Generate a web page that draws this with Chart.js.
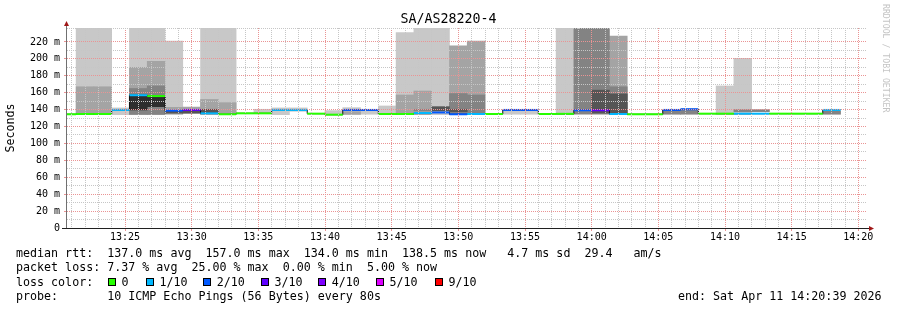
<!DOCTYPE html>
<html>
<head>
<meta charset="utf-8">
<script src="https://cdn.jsdelivr.net/npm/chart.js@4.4.1/dist/chart.umd.min.js"></script>
<style>
html,body{margin:0;padding:0;background:#fff;}
#wrap{position:relative;width:897px;height:310px;overflow:hidden;font-family:"DejaVu Sans Mono",monospace;color:#000;}
#c{position:absolute;left:0;top:0;}
.t{position:absolute;white-space:pre;font-size:11.67px;line-height:14px;}
#title{position:absolute;left:0;width:897px;top:11px;text-align:center;font-size:13.3px;line-height:16px;}
#wm{position:absolute;left:881px;top:4px;writing-mode:vertical-rl;font-size:8.2px;color:#c4c4c4;white-space:pre;line-height:10px;}
.sq{position:absolute;width:6px;height:6px;border:1px solid #000;}
</style>
</head>
<body>
<div id="wrap">
<canvas id="c" width="897" height="310"></canvas>
<div id="title">SA/AS28220-4</div>
<div id="wm">RRDTOOL / TOBI OETIKER</div>
<div class="t" style="left:16px;top:246px">median rtt:  137.0 ms avg  157.0 ms max  134.0 ms min  138.5 ms now   4.7 ms sd  29.4   am/s</div>
<div class="t" style="left:16px;top:260px">packet loss: 7.37 % avg  25.00 % max  0.00 % min  5.00 % now</div>
<div class="t" style="left:16px;top:275px">loss color:</div>
<div id="lossLegend"></div>
<div class="t" style="left:16px;top:289px">probe:       10 ICMP Echo Pings (56 Bytes) every 80s</div>
<div class="t" style="left:678px;top:289px">end: Sat Apr 11 14:20:39 2026</div>
</div>
<script>
// ---------- data ----------
const binStart = ['13:20:00','13:21:20','13:22:40','13:24:00','13:25:20','13:26:40','13:28:00','13:29:20','13:30:40','13:32:00',
  '13:33:20','13:34:40','13:36:00','13:37:20','13:38:40','13:40:00','13:41:20','13:42:40','13:44:00','13:45:20',
  '13:46:40','13:48:00','13:49:20','13:50:40','13:52:00','13:53:20','13:54:40','13:56:00','13:57:20','13:58:40',
  '14:00:00','14:01:20','14:02:40','14:04:00','14:05:20','14:06:40','14:08:00','14:09:20','14:10:40','14:12:00',
  '14:13:20','14:14:40','14:16:00','14:17:20','14:18:40'];
const binSeconds = 80;

const median = [134.5,134.8,134.8,139.6,157,156,138.8,139.6,135.6,134.5,
  135.6,135.6,139.6,139.6,135.2,134.0,139.6,139.6,134.8,134.8,
  136,136.6,134.5,134.8,134.8,139.6,139.6,134.8,135,139.2,
  139.2,134.8,134.5,134.5,139.6,140.4,135.2,135.2,135.2,135.2,
  135.2,135.2,135.2,139.6,null];

const lossCount = [0,0,0,1,1,0,2,3,1,0,
  0,0,1,1,0,0,2,2,0,0,
  1,2,2,1,0,2,2,0,0,2,
  3,1,0,0,2,2,0,0,1,1,
  0,0,0,1,null];

const smokeLight = [null,[134,240],[134,240],[134,142],[134,240],[134,240],[134,221],null,[134,240],[134,240],
  null,[135.5,140.4],[134,142],[138,142],null,[134,138.8],[134,142.3],[134.5,139],[134,144.3],[134,231],
  [134,240],[134,240],null,null,null,[134.5,139],[134.5,139],null,[134,240],null,
  null,null,null,null,null,null,null,[134,168],[134,200.7],null,
  null,null,null,null,null];

const smokeMid = [null,[134,167],[134,167],null,[134,190],[134,197],[138.8,142.7],[139.6,143],[134,152],[134,148.2],
  null,null,null,null,null,null,[134.5,137.6],null,null,[134,157.3],
  [134,162],null,[134,215.5],[134,221],null,null,null,null,null,null,
  null,[134,227],null,null,null,null,null,null,null,null,
  null,null,null,null,null];

const smokeDark = [null,null,null,null,[134.5,165],[134.5,168],null,null,null,null,
  null,null,null,null,null,null,null,null,null,null,
  [138.5,140.4],null,[134.5,159],[134.5,157.3],null,null,null,null,null,[134.5,240],
  [134.5,240],[134.5,167],null,null,[134.5,139],[134.5,139.5],null,null,[137.6,140],[137.6,140],
  null,null,null,[134.5,138],null];

const smokeDarker = [null,null,null,null,null,null,[135.6,138.8],[135.6,138.8],[136,140.4],null,
  null,null,null,null,null,null,null,null,null,null,
  null,[138.4,143.5],[137.5,140.4],null,null,null,null,null,null,null,
  [136,163],[136,158.5],null,null,null,null,null,null,null,null,
  null,null,null,null,null];

const smokeDarkest = [null,null,null,null,[139.6,156.5],[143.5,155.3],null,null,null,null,
  null,null,null,null,null,null,null,null,null,null,
  null,null,null,null,null,null,null,null,null,null,
  null,null,null,null,null,null,null,null,null,null,
  null,null,null,null,null];

const xTickLabels = ['13:25','13:30','13:35','13:40','13:45','13:50','13:55','14:00','14:05','14:10','14:15','14:20'];
const yTickValues = [0,20,40,60,80,100,120,140,160,180,200,220];
const yTickLabels = ['0','20 m','40 m','60 m','80 m','100 m','120 m','140 m','160 m','180 m','200 m','220 m'];
const xRange = ['13:20:39','14:20:39'];
const yMax = 236.5;

const lossLabels = ['0','1/10','2/10','3/10','4/10','5/10','9/10'];
const lossLevels = [0,1,2,3,4,5,9];
const lossColors = ['#26ff00','#00b8ff','#0059ff','#5e00ff','#7e00ff','#dd00ff','#ff0000'];

// ---------- helpers ----------
function sec(s){const p=s.split(':').map(Number);return p[0]*3600+p[1]*60+(p[2]||0);}
function lossColor(n){
  let idx=0;
  for(let k=0;k<lossLevels.length;k++){ if(n>=lossLevels[k]) idx=k; }
  return lossColors[idx];
}

(function(){
  const host=document.getElementById('lossLegend');
  const sqX=[108,146,203.3,261,318.3,376,435];
  lossLabels.forEach((lab,i)=>{
    const s=document.createElement('div');s.className='sq';
    s.style.left=sqX[i]+'px';s.style.top='278px';s.style.background=lossColors[i];
    host.appendChild(s);
    const t=document.createElement('div');t.className='t';
    t.style.left=(sqX[i]+13.5)+'px';t.style.top='275px';t.textContent=lab;
    host.appendChild(t);
  });
})();

const CANVAS_W=897, PAD_RIGHT=30, Y_AXIS_W=67;
const xMin=sec(xRange[0]), xMax=sec(xRange[1]);
const barPx=(CANVAS_W-PAD_RIGHT-Y_AXIS_W)*binSeconds/(xMax-xMin);

function bandData(arr){
  const out=[];
  arr.forEach((v,i)=>{ if(v) out.push({x:sec(binStart[i])+binSeconds/2,y:v}); });
  return out;
}

const medSegs=[], medSegBin=[];
median.forEach((m,i)=>{
  if(m==null) return;
  const s=sec(binStart[i]);
  medSegs.push({x:s,y:m},{x:s+binSeconds,y:m},{x:s+binSeconds,y:null});
  medSegBin.push(i,i,i);
});
const stepPts=[];
median.forEach((m,i)=>{
  if(m==null) return;
  const s=sec(binStart[i]);
  stepPts.push({x:s,y:m});
  if(i===median.length-1||median[i+1]==null) stepPts.push({x:s+binSeconds,y:m});
});

const MAJOR='#ea9494';
const MINOR='#c6c6c6';
const CLEAR='rgba(0,0,0,0)';
const FONT='DejaVu Sans Mono';

function smokeSet(arr,color,order){
  return {type:'bar',data:bandData(arr),backgroundColor:color,borderWidth:0,grouped:false,
    barThickness:barPx,order:order,clip:0};
}

const axisPlugin={
  id:'axisArrows',
  afterDraw(chart){
    const {ctx,chartArea:a}=chart;
    ctx.save();
    ctx.lineWidth=1;
    ctx.strokeStyle='#707070';
    ctx.beginPath();ctx.moveTo(a.left-0.5,a.bottom+0.5);ctx.lineTo(a.left-0.5,a.top-3);ctx.stroke();
    ctx.strokeStyle='#202020';
    ctx.beginPath();ctx.moveTo(a.left-5,a.bottom+0.5);ctx.lineTo(a.right+3,a.bottom+0.5);ctx.stroke();
    ctx.fillStyle='#a01818';
    ctx.beginPath();ctx.moveTo(a.left-3,a.top-2);ctx.lineTo(a.left+2,a.top-2);ctx.lineTo(a.left-0.5,a.top-7);ctx.closePath();ctx.fill();
    ctx.beginPath();ctx.moveTo(a.right+2,a.bottom-2);ctx.lineTo(a.right+2,a.bottom+3);ctx.lineTo(a.right+7,a.bottom+0.5);ctx.closePath();ctx.fill();
    ctx.restore();
  }
};

const majorSet=new Set(xTickLabels.map(l=>sec(l)));
const minuteTicks=[];
for(let t=Math.ceil(xMin/60)*60;t<=xMax;t+=60) minuteTicks.push(t);

new Chart(document.getElementById('c'),{
  type:'bar',
  data:{datasets:[
    {type:'line',data:medSegs,borderWidth:2,pointRadius:0,fill:false,spanGaps:false,order:0,
      borderColor:'#26ff00',segment:{borderColor:c=>lossColor(lossCount[medSegBin[c.p0DataIndex]])},borderCapStyle:'butt'},
    {type:'line',data:stepPts,borderWidth:1,pointRadius:0,fill:false,stepped:true,order:1,borderColor:'#111'},
    smokeSet(smokeDarkest,'#2e2e2e',2),
    smokeSet(smokeDarker,'#555555',3),
    smokeSet(smokeDark,'#838383',4),
    smokeSet(smokeMid,'#a4a4a4',5),
    smokeSet(smokeLight,'#c8c8c8',6)
  ]},
  options:{
    responsive:false,animation:false,devicePixelRatio:1,
    layout:{padding:{left:0,right:PAD_RIGHT,top:28,bottom:62}},
    plugins:{legend:{display:false},tooltip:{enabled:false},title:{display:false}},
    scales:{
      x:{type:'linear',position:'bottom',min:xMin,max:xMax,offset:false,
        grid:{offset:false,lineWidth:1,drawTicks:true,tickLength:3,z:1,
          color:c=>(c.tick&&majorSet.has(c.tick.value))?MAJOR:MINOR,
          tickColor:c=>(c.tick&&majorSet.has(c.tick.value))?MAJOR:CLEAR},
        border:{display:false,dash:[1,1]},
        ticks:{autoSkip:false,maxRotation:0,padding:0,color:'#000',font:{family:FONT,size:10},
          callback:v=>{const k=xTickLabels.findIndex(l=>sec(l)===v);return k>=0?xTickLabels[k]:'';}},
        afterBuildTicks:s=>{s.ticks=minuteTicks.map(v=>({value:v}));},
        afterFit:s=>{s.height=20;s.paddingLeft=0;s.paddingRight=0;}
      },
      y:{type:'linear',position:'left',min:0,max:yMax,
        grid:{z:1,tickLength:3,
          color:c=>{const v=c.tick?c.tick.value:0; if(v===0) return CLEAR; return v%20===0?MAJOR:MINOR;},
          tickColor:c=>{const v=c.tick?c.tick.value:0; return v%20===0?MAJOR:CLEAR;}},
        border:{display:false,dash:[1,1]},
        ticks:{stepSize:10,autoSkip:false,padding:4,color:'#000',font:{family:FONT,size:10},
          callback:v=>{const k=yTickValues.indexOf(v);return k>=0?yTickLabels[k]:'';}},
        title:{display:true,text:'Seconds',color:'#000',font:{family:FONT,size:11.67},padding:{top:4,bottom:0}},
        afterFit:s=>{s.width=Y_AXIS_W;s.paddingTop=0;s.paddingBottom=0;}
      }
    }
  },
  plugins:[axisPlugin]
});
</script>
</body>
</html>
